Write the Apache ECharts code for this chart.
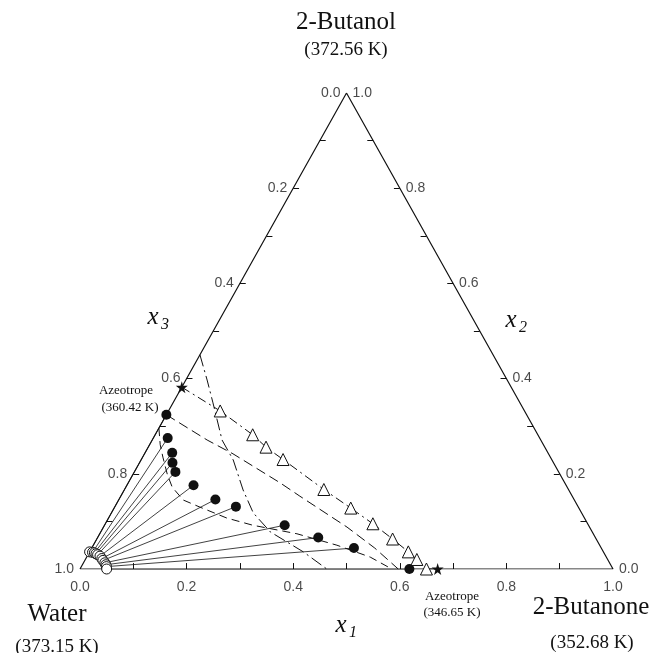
<!DOCTYPE html>
<html><head><meta charset="utf-8">
<script src="https://cdn.jsdelivr.net/npm/echarts@6/dist/echarts.min.js"></script>
<style>html,body{margin:0;padding:0;background:#fff}#c{width:656px;height:653px}</style>
</head><body><div id="c"></div>
<script>
// Ternary compositions written as [x1 (2-butanone), x2 (2-butanol)]; x3 (water) = 1 - x1 - x2
const organicPhase = [[0,0.324],[0.027,0.275],[0.051,0.244],[0.062,0.223],[0.077,0.204],[0.125,0.176],[0.181,0.146],[0.227,0.131],[0.338,0.092],[0.414,0.066],[0.492,0.044],[0.618,0]];
const aqueousPhase = [[0,0.036],[0.006,0.035],[0.010,0.034],[0.014,0.032],[0.018,0.030],[0.024,0.027],[0.030,0.022],[0.034,0.018],[0.040,0.013],[0.044,0.009],[0.047,0.005],[0.050,0]];
const vaporPoints = [[0.097,0.332],[0.183,0.282],[0.221,0.256],[0.266,0.230],[0.374,0.167],[0.444,0.128],[0.502,0.095],[0.555,0.063],[0.598,0.036],[0.622,0.020],[0.650,0]];
const azeotropes = [[0,0.382],[0.671,0]];
const curveA = [[0,0.324],[0.103,0.271],[0.166,0.242],[0.285,0.181],[0.336,0.153],[0.457,0.088],[0.531,0.044],[0.597,0]];
const curveB = [[0,0.296],[0.020,0.261],[0.038,0.235],[0.065,0.198],[0.087,0.172],[0.121,0.145],[0.160,0.130],[0.222,0.107],[0.278,0.092],[0.370,0.074],[0.457,0.050],[0.532,0.025],[0.585,0]];
const curveC = [[0,0.450],[0.040,0.397],[0.075,0.349],[0.131,0.271],[0.173,0.229],[0.223,0.166],[0.266,0.118],[0.318,0.078],[0.401,0.036],[0.463,0]];
const vaporLine = [[0,0.382],[0.097,0.332],[0.183,0.282],[0.221,0.256],[0.266,0.230],[0.374,0.167],[0.444,0.128],[0.502,0.095],[0.555,0.063],[0.598,0.036],[0.622,0.020],[0.650,0],[0.671,0]];
const tickValues = [0,0.1,0.2,0.3,0.4,0.5,0.6,0.7,0.8,0.9,1.0];
const labelValues = [0,0.2,0.4,0.6,0.8,1.0];
const tickLabels = ['0.0','0.2','0.4','0.6','0.8','1.0'];
const vertexNames = ['2-Butanol','Water','2-Butanone'];
const vertexTemps = ['(372.56 K)','(373.15 K)','(352.68 K)'];
const azeoLabels = ['Azeotrope','(360.42 K)','(346.65 K)'];

const toXY = p => [p[0] + p[1] / 2, p[1]];
const BLACK = '#111';
const SERIF = '"Liberation Serif","Times New Roman",serif';
const SANS = '"Liberation Sans",Arial,sans-serif';

const TX = 0.011, TY = 0.0125; // tick length in data units
const tickSegs = [];
tickValues.forEach(v => {
  if (v > 0 && v < 1) {
    const b = toXY([v, 0]);
    tickSegs.push({coords: [b, [b[0], b[1] + TY]]});
    const l = toXY([0, 1 - v]);
    tickSegs.push({coords: [l, [l[0] + TX, l[1]]]});
    const r = toXY([1 - v, v]);
    tickSegs.push({coords: [r, [r[0] - TX, r[1]]]});
  }
});
const tieSegs = organicPhase.map((p, i) => ({coords: [toXY(p), toXY(aqueousPhase[i])]}));

const lineSeries = (data, type, width) => ({
  type: 'line', data: data.map(toXY), symbol: 'none', silent: true, z: 2,
  lineStyle: {color: BLACK, width: width || 1, type: type}
});
const labelSeries = (pts, texts, pos, dist) => ({
  type: 'scatter', symbolSize: 0, silent: true, z: 5,
  data: pts.map((p, i) => ({value: toXY(p), label: {formatter: texts[i]}})),
  label: {show: true, position: pos, distance: dist, color: '#1a1a1a', fontFamily: SANS, fontSize: 14}
});
const STAR = 'path://M50,0 L61,35 L98,35 L68,57 L79,91 L50,70 L21,91 L32,57 L2,35 L39,35 Z';
const textEl = (x, y, text, font) => ({type: 'text', x: x, y: y, silent: true,
  style: {text: text, font: font, fill: BLACK, align: 'center', verticalAlign: 'middle', textAlign: 'center', textVerticalAlign: 'middle'}});

const option = {
  animation: false,
  grid: {left: 80, top: 93, width: 533, height: 476},
  xAxis: {type: 'value', min: 0, max: 1, show: false},
  yAxis: {type: 'value', min: 0, max: 1, show: false},
  series: [
    lineSeries([[0,0],[1,0],[0,1],[0,0]], 'solid', 1.2),
    {type: 'lines', coordinateSystem: 'cartesian2d', data: tickSegs, silent: true,
     lineStyle: {color: BLACK, width: 1, opacity: 1}},
    {type: 'lines', coordinateSystem: 'cartesian2d', data: tieSegs, silent: true, z: 2,
     lineStyle: {color: BLACK, width: 0.8, opacity: 1}},
    lineSeries(curveA, [10, 5], 1),
    lineSeries(curveB, [8, 5], 1),
    lineSeries(curveC, [12, 4, 2, 4], 1),
    lineSeries(vaporLine, [9, 4, 2, 4], 1),
    {type: 'scatter', data: aqueousPhase.map(toXY), symbol: 'circle', symbolSize: 10, z: 3, silent: true,
     itemStyle: {color: '#fff', borderColor: BLACK, borderWidth: 1, opacity: 1}},
    {type: 'scatter', data: organicPhase.map(toXY), symbol: 'circle', symbolSize: 10, z: 4, silent: true,
     itemStyle: {color: BLACK, opacity: 1}},
    {type: 'scatter', data: vaporPoints.map(toXY), symbol: 'triangle', symbolSize: 12, z: 4, silent: true,
     itemStyle: {color: '#fff', borderColor: BLACK, borderWidth: 1, opacity: 1}},
    {type: 'scatter', data: azeotropes.map(toXY), symbol: STAR, symbolSize: 12, z: 4, silent: true,
     itemStyle: {color: BLACK, opacity: 1}},
    labelSeries(labelValues.map(v => [v, 0]), tickLabels, 'bottom', 11),
    labelSeries(labelValues.map(v => [0, 1 - v]), tickLabels, 'left', 6),
    labelSeries(labelValues.map(v => [1 - v, v]), tickLabels, 'right', 6)
  ],
  graphic: [
    textEl(346, 22, vertexNames[0], '25px ' + SERIF),
    textEl(346, 50, vertexTemps[0], '19px ' + SERIF),
    textEl(57, 614, vertexNames[1], '25px ' + SERIF),
    textEl(57, 647, vertexTemps[1], '19px ' + SERIF),
    textEl(591, 607, vertexNames[2], '25px ' + SERIF),
    textEl(592, 643, vertexTemps[2], '19px ' + SERIF),
    textEl(126, 391, azeoLabels[0], '13px ' + SERIF),
    textEl(130, 408, azeoLabels[1], '13px ' + SERIF),
    textEl(452, 597, azeoLabels[0], '13px ' + SERIF),
    textEl(452, 613, azeoLabels[2], '13px ' + SERIF),
    textEl(153, 317, 'x', 'italic 25px ' + SERIF),
    textEl(165, 325, '3', 'italic 16px ' + SERIF),
    textEl(511, 320, 'x', 'italic 25px ' + SERIF),
    textEl(523, 328, '2', 'italic 16px ' + SERIF),
    textEl(341, 625, 'x', 'italic 25px ' + SERIF),
    textEl(353, 633, '1', 'italic 16px ' + SERIF)
  ]
};
echarts.init(document.getElementById('c'), null, {renderer: 'canvas'}).setOption(option);
</script></body></html>
